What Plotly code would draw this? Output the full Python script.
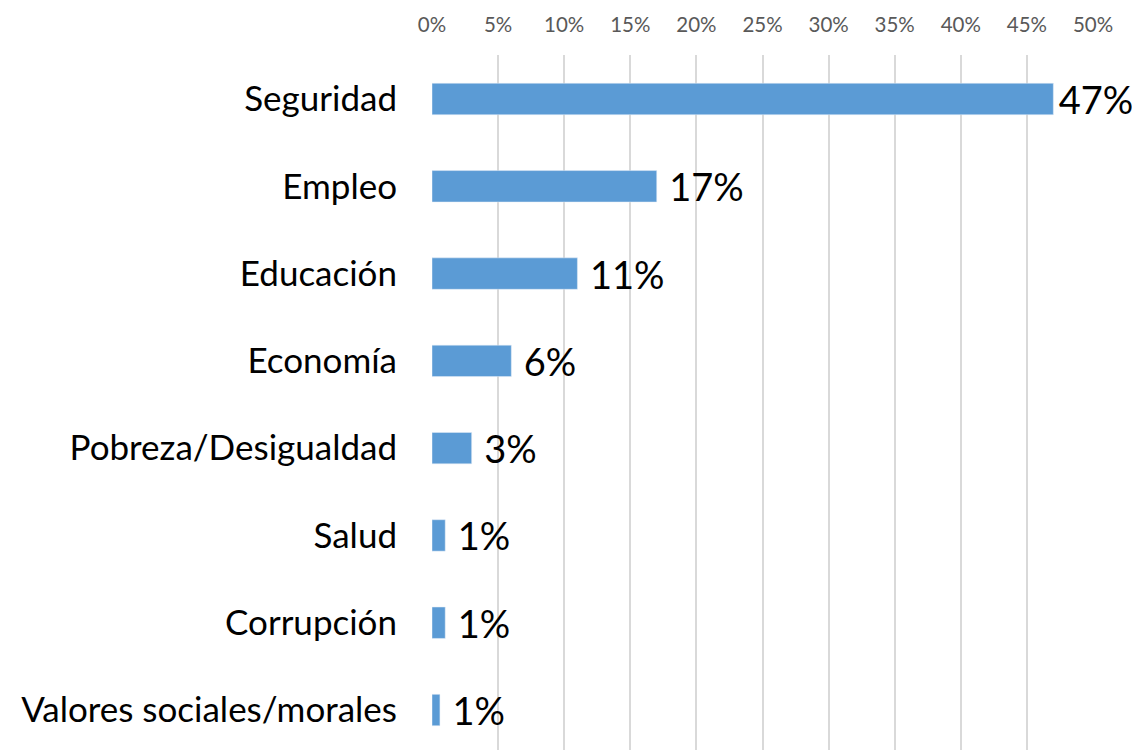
import plotly.graph_objects as go

categorias = ["Seguridad", "Empleo", "Educación", "Economía", "Pobreza/Desigualdad",
              "Salud", "Corrupción", "Valores sociales/morales"]
porcentajes = [47, 17, 11, 6, 3, 1, 1, 0.6]
etiquetas = ["47%", "17%", "11%", "6%", "3%", "1%", "1%", "1%"]
ticks = [0, 5, 10, 15, 20, 25, 30, 35, 40, 45, 50]
tick_text = [f"{t}%" for t in ticks]

# separación entre barra y etiqueta (la primera queda más pegada)
textos = ["\u200a" + etiquetas[0]] + ["\u2009\u2009" + e for e in etiquetas[1:]]

fig = go.Figure(go.Bar(
    y=categorias,
    x=porcentajes,
    orientation="h",
    marker=dict(color="#5B9BD5"),
    text=textos,
    textposition="outside",
    constraintext="none",
    textfont=dict(size=38, color="#000000", family="Lato"),
    cliponaxis=False,
    width=0.36,
))

# la página añade 8px de margen al body
fig.update_layout(
    width=1132, height=742,
    margin=dict(l=424, r=47, t=47, b=0),
    plot_bgcolor="white", paper_bgcolor="white",
    showlegend=False,
    font=dict(family="Lato"),
)
fig.update_xaxes(
    range=[0, 50], side="top", tickvals=ticks, ticktext=tick_text,
    showgrid=True, gridcolor="#D9D9D9", gridwidth=2,
    zeroline=False, showline=False, automargin=False,
    tickfont=dict(size=20.5, color="#595959"), ticks="", ticklabelstandoff=18,
)
fig.update_yaxes(
    range=[7.458, -0.504], showgrid=False, zeroline=False, automargin=False,
    tickfont=dict(size=35, color="#000000"), ticks="", ticklabelstandoff=34,
)

fig.write_html("out.html")
